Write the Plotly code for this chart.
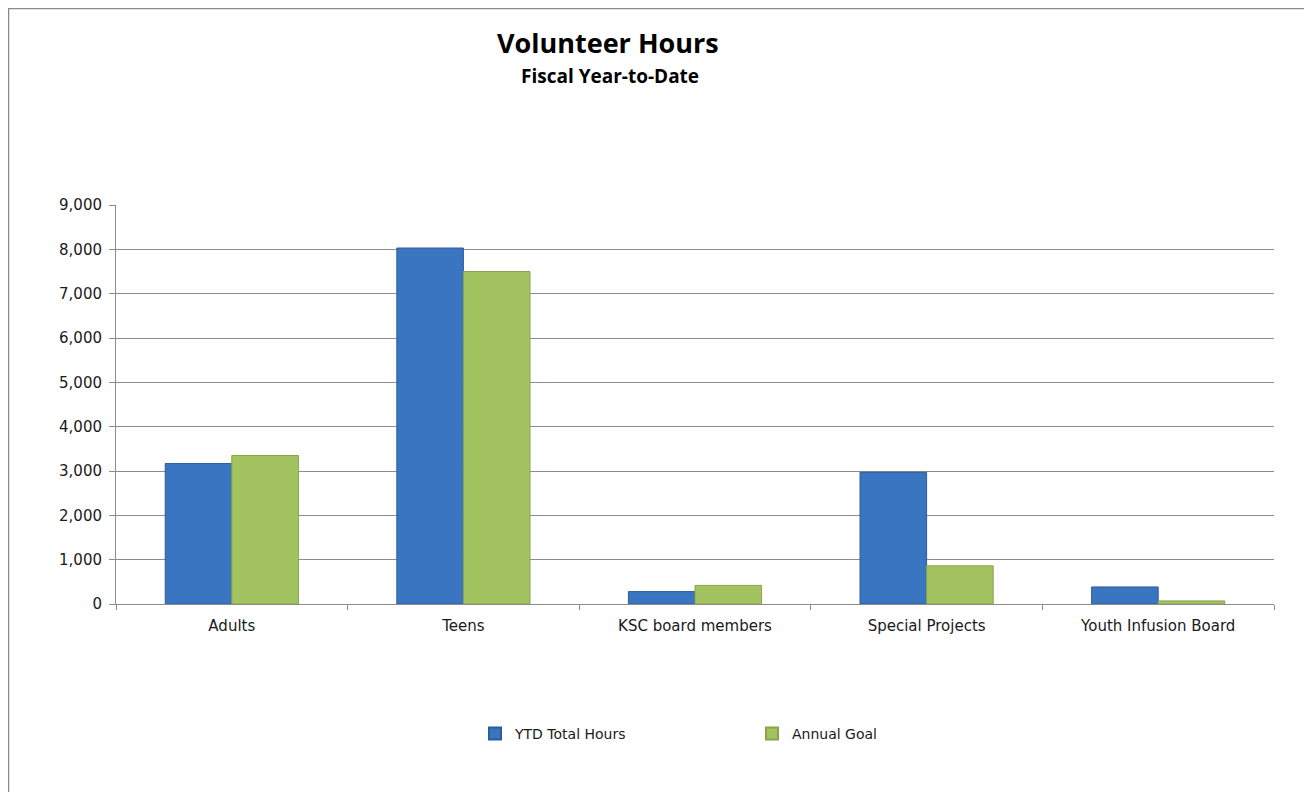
import plotly.graph_objects as go

categories = ["Adults", "Teens", "KSC board members", "Special Projects", "Youth Infusion Board"]
ytd_hours = [3170, 8030, 280, 2970, 385]
annual_goal = [3350, 7500, 420, 860, 70]
y_ticks = [0, 1000, 2000, 3000, 4000, 5000, 6000, 7000, 8000, 9000]
y_tick_labels = ["0", "1,000", "2,000", "3,000", "4,000", "5,000", "6,000", "7,000", "8,000", "9,000"]

W, H = 1312, 792
OFF = 8  # page body margin offset
L, R, T, B = 116 - OFF, 38 + OFF, 205 - OFF, 188 + OFF
pw, ph = W - L - R, H - T - B

fig = go.Figure()
fig.add_trace(go.Bar(
    x=categories, y=ytd_hours, name="YTD Total Hours",
    marker=dict(color="#3a75c2", line=dict(color="#2e5d9a", width=1)),
))
fig.add_trace(go.Bar(
    x=categories, y=annual_goal, name="Annual Goal",
    marker=dict(color="#a3c260", line=dict(color="#87a44b", width=1)),
))

def px_x(x):
    return (x - OFF - L) / pw

def px_y(y):
    return (H - B - (y - OFF)) / ph

fig.update_layout(
    width=W, height=H,
    margin=dict(l=L, r=R, t=T, b=B, autoexpand=False),
    paper_bgcolor="white", plot_bgcolor="white",
    barmode="group", bargap=0.425, bargroupgap=0,
    font=dict(family="DejaVu Sans", size=13, color="#1a1a1a"),
    xaxis=dict(
        showline=True, linecolor="#8c8c8c", linewidth=1,
        ticks="outside", tickson="boundaries", ticklen=5, tickcolor="#8c8c8c",
        ticklabelstandoff=8,
        showgrid=False, tickfont=dict(size=15, family="DejaVu Sans", color="#1a1a1a"),
    ),
    yaxis=dict(
        range=[0, 9000], tickvals=y_ticks, ticktext=y_tick_labels,
        showline=True, linecolor="#8c8c8c", linewidth=1,
        ticks="outside", ticklen=6, tickcolor="#8c8c8c",
        ticklabelstandoff=4,
        showgrid=True, gridcolor="#8c8c8c", gridwidth=1,
        zeroline=False, tickfont=dict(size=15, family="DejaVu Sans", color="#1a1a1a"),
    ),
    legend=dict(
        orientation="h", x=px_x(475), xanchor="left", y=px_y(734), yanchor="middle",
        entrywidth=232, entrywidthmode="pixels",
        font=dict(size=14, family="DejaVu Sans", color="#1a1a1a"),
        itemsizing="constant",
    ),
    annotations=[
        dict(text="<b>Volunteer Hours</b>", xref="paper", yref="paper",
             x=px_x(608), y=px_y(42), xanchor="center", yanchor="middle",
             showarrow=False, font=dict(family="Open Sans", size=27, color="#000000")),
        dict(text="<b>Fiscal Year-to-Date</b>", xref="paper", yref="paper",
             x=px_x(610), y=px_y(76), xanchor="center", yanchor="middle",
             showarrow=False, font=dict(family="Open Sans", size=19, color="#000000")),
    ],
    shapes=[dict(
        type="rect", xref="paper", yref="paper",
        x0=px_x(8.5), x1=px_x(1310), y0=px_y(820), y1=px_y(8.5),
        line=dict(color="#8a8a8a", width=1.5), fillcolor="rgba(0,0,0,0)", layer="below",
    )],
)

fig.write_html("out.html")
